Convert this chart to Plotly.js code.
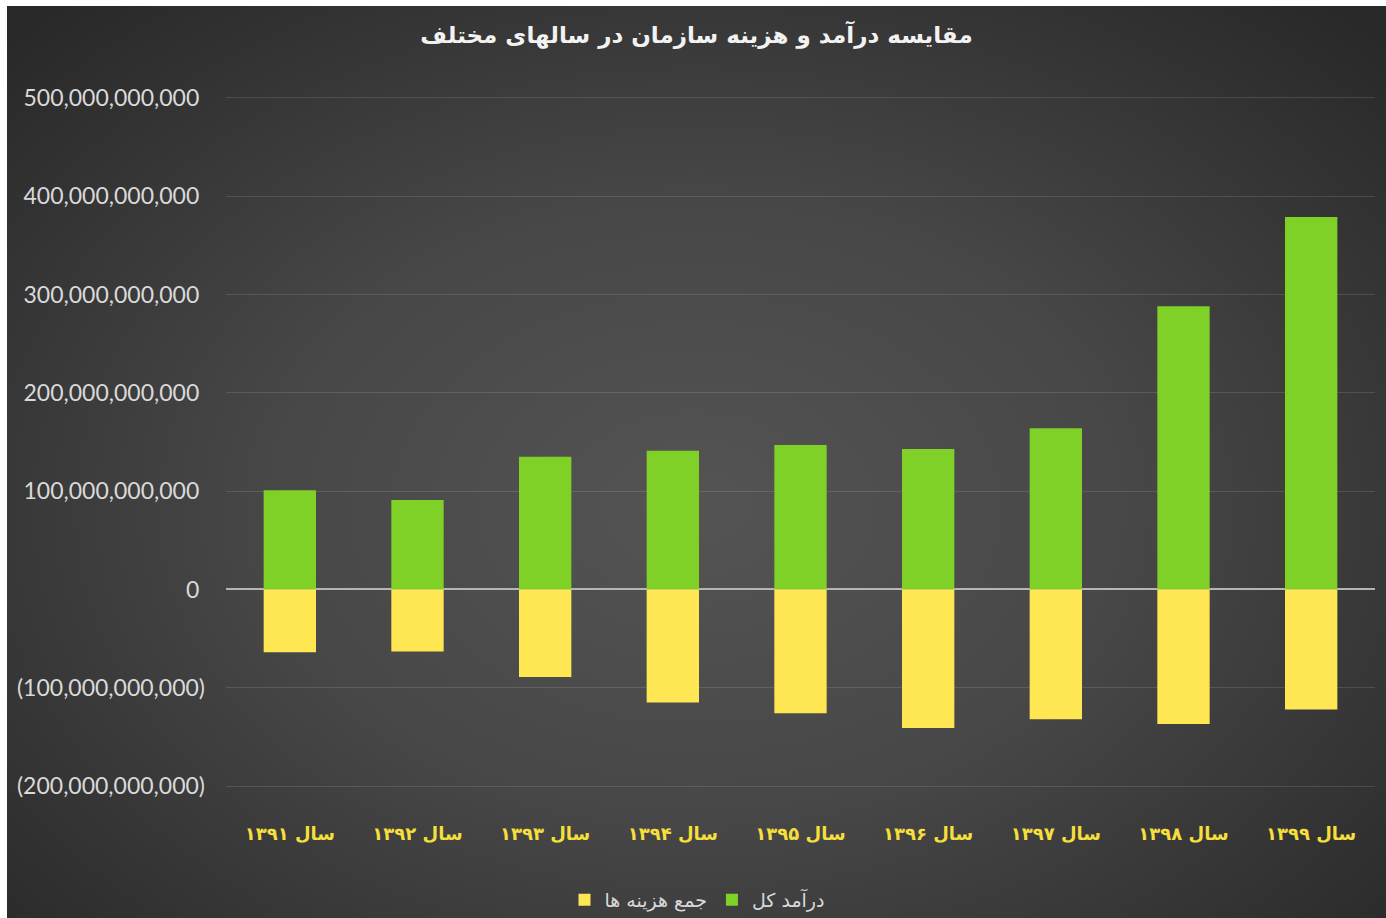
<!DOCTYPE html>
<html>
<head>
<meta charset="utf-8">
<script src="https://cdn.plot.ly/plotly-3.0.1.min.js"></script>
<style>
  html, body { margin: 0; padding: 0; background: #ffffff; }
  #chart {
    position: absolute; left: 7px; top: 6px; width: 1379px; height: 912px;
    background: radial-gradient(ellipse 70% 75% at 50% 55%, #545454 0%, #474747 45%, #333333 80%, #282828 100%);
  }
</style>
</head>
<body>
<div id="chart"></div>
<script>
// Data
const years = ["سال ۱۳۹۱","سال ۱۳۹۲","سال ۱۳۹۳","سال ۱۳۹۴","سال ۱۳۹۵","سال ۱۳۹۶","سال ۱۳۹۷","سال ۱۳۹۸","سال ۱۳۹۹"];
const income = [101e9, 91e9, 135e9, 141e9, 147e9, 143e9, 164e9, 288e9, 379e9];
const costs = [-64e9, -63e9, -89e9, -115e9, -126e9, -141e9, -132e9, -137e9, -122e9];
const incomeName = "درآمد کل";
const costsName = "جمع هزینه ها";
const chartTitle = "مقایسه درآمد و هزینه سازمان در سالهای مختلف";
const yTickVals = [-200e9, -100e9, 0, 100e9, 200e9, 300e9, 400e9, 500e9];
const yTickText = ["(200,000,000,000)","(100,000,000,000)","0\u2009\u2009","100,000,000,000\u2009\u2009","200,000,000,000\u2009\u2009","300,000,000,000\u2009\u2009","400,000,000,000\u2009\u2009","500,000,000,000\u2009\u2009"];

const arabicFont = "DejaVu Sans, Noto Sans, sans-serif";

const traces = [
  { type: "bar", name: incomeName, x: years, y: income,
    marker: { color: "#7fd027" }, hoverinfo: "y" },
  { type: "bar", name: costsName, x: years, y: costs,
    marker: { color: "#ffe653" }, hoverinfo: "y" }
];

const plotTop = 89, plotBottom = 783;
const layout = {
  width: 1379, height: 912,
  paper_bgcolor: "rgba(0,0,0,0)",
  plot_bgcolor: "rgba(0,0,0,0)",
  margin: { l: 219, r: 11, t: plotTop, b: 912 - plotBottom, autoexpand: false },
  barmode: "relative",
  bargap: 0.59,
  title: {
    text: "<b>" + chartTitle + "</b>",
    font: { family: arabicFont, size: 23, color: "#f2f2f2" },
    x: 0.5, xref: "container", xanchor: "center",
    y: 1 - 29/912, yref: "container", yanchor: "middle"
  },
  xaxis: {
    type: "category", automargin: false, tickangle: 0,
    showgrid: false, showline: false, zeroline: false, ticks: "",
    tickfont: { family: arabicFont, size: 18, color: "#f5df3c", weight: "bold" },
    ticklabelstandoff: 32,
    fixedrange: true
  },
  yaxis: {
    range: [-203e9, 503e9], automargin: false,
    tickvals: yTickVals, ticktext: yTickText,
    showgrid: true, gridcolor: "rgba(255,255,255,0.12)", gridwidth: 1,
    zeroline: true, zerolinecolor: "#b5b5b5", zerolinewidth: 2,
    showline: false, ticks: "",
    tickfont: { family: "Lato, Open Sans, sans-serif", size: 23, color: "#d9d9d9" },
    ticklabelstandoff: 20,
    fixedrange: true
  },
  showlegend: true,
  legend: {
    orientation: "h", traceorder: "reversed",
    x: (690 - 219) / 1149, xref: "paper", xanchor: "center",
    y: -(894 - plotBottom) / (plotBottom - plotTop), yanchor: "middle",
    font: { family: arabicFont, size: 19, color: "#d9d9d9" },
    bgcolor: "rgba(0,0,0,0)"
  }
};

Plotly.newPlot("chart", traces, layout, { displayModeBar: false, staticPlot: true });
</script>
</body>
</html>
